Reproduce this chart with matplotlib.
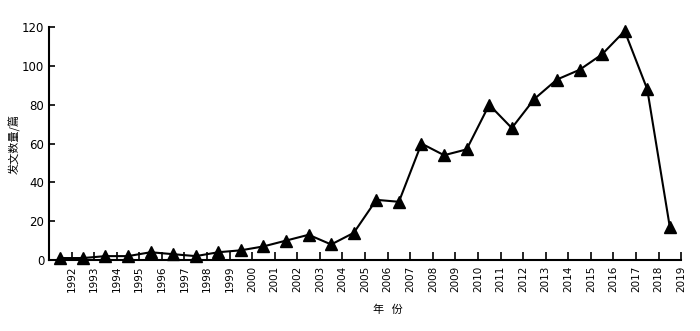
import numpy as np
import matplotlib
matplotlib.use("Agg")
import matplotlib.pyplot as plt

plt.rcParams["font.family"] = ["DejaVu Sans", "Noto Sans CJK SC"]

years = list(range(1992, 2020))
counts = [1, 1, 2, 2, 4, 3, 2, 4, 5, 7, 10, 13, 8, 14,
          31, 30, 60, 54, 57, 80, 68, 83, 93, 98, 106, 118, 88, 17]
tick_labels = [str(y) for y in years]

fig = plt.figure(figsize=(7.0, 3.31), dpi=100)
ax = fig.add_axes([0.07, 0.2145, 0.903, 0.7035])

# points sit between ticks, like the original category axis
pos = np.arange(len(years)) + 0.5
ax.plot(pos, counts, color="black", linewidth=1.5, marker="^",
        markersize=8, clip_on=False)

ax.set_xlim(0, len(years))
ax.set_ylim(0, 120)
ax.set_xticks(np.arange(1, len(years) + 1))
ax.set_xticklabels(tick_labels, rotation=90, fontsize=7.5)
ax.set_yticks(range(0, 121, 20))
ax.tick_params(axis="y", labelsize=8.5, direction="in", length=4, width=1.2)
ax.tick_params(axis="x", direction="in", length=6, width=1.2, pad=4)

for s in ["top", "right"]:
    ax.spines[s].set_visible(False)
for s in ["left", "bottom"]:
    ax.spines[s].set_linewidth(1.5)

ax.set_ylabel("发文数量/篇", family=["Noto Sans CJK SC", "DejaVu Sans"],
              fontsize=8)
ax.yaxis.set_label_coords(-0.045, 0.5)
ax.set_xlabel("年   份", family=["Noto Sans CJK SC", "DejaVu Sans"],
              fontsize=8)
ax.xaxis.set_label_coords(0.536, -0.19)

fig.savefig("out.png", dpi=100)
